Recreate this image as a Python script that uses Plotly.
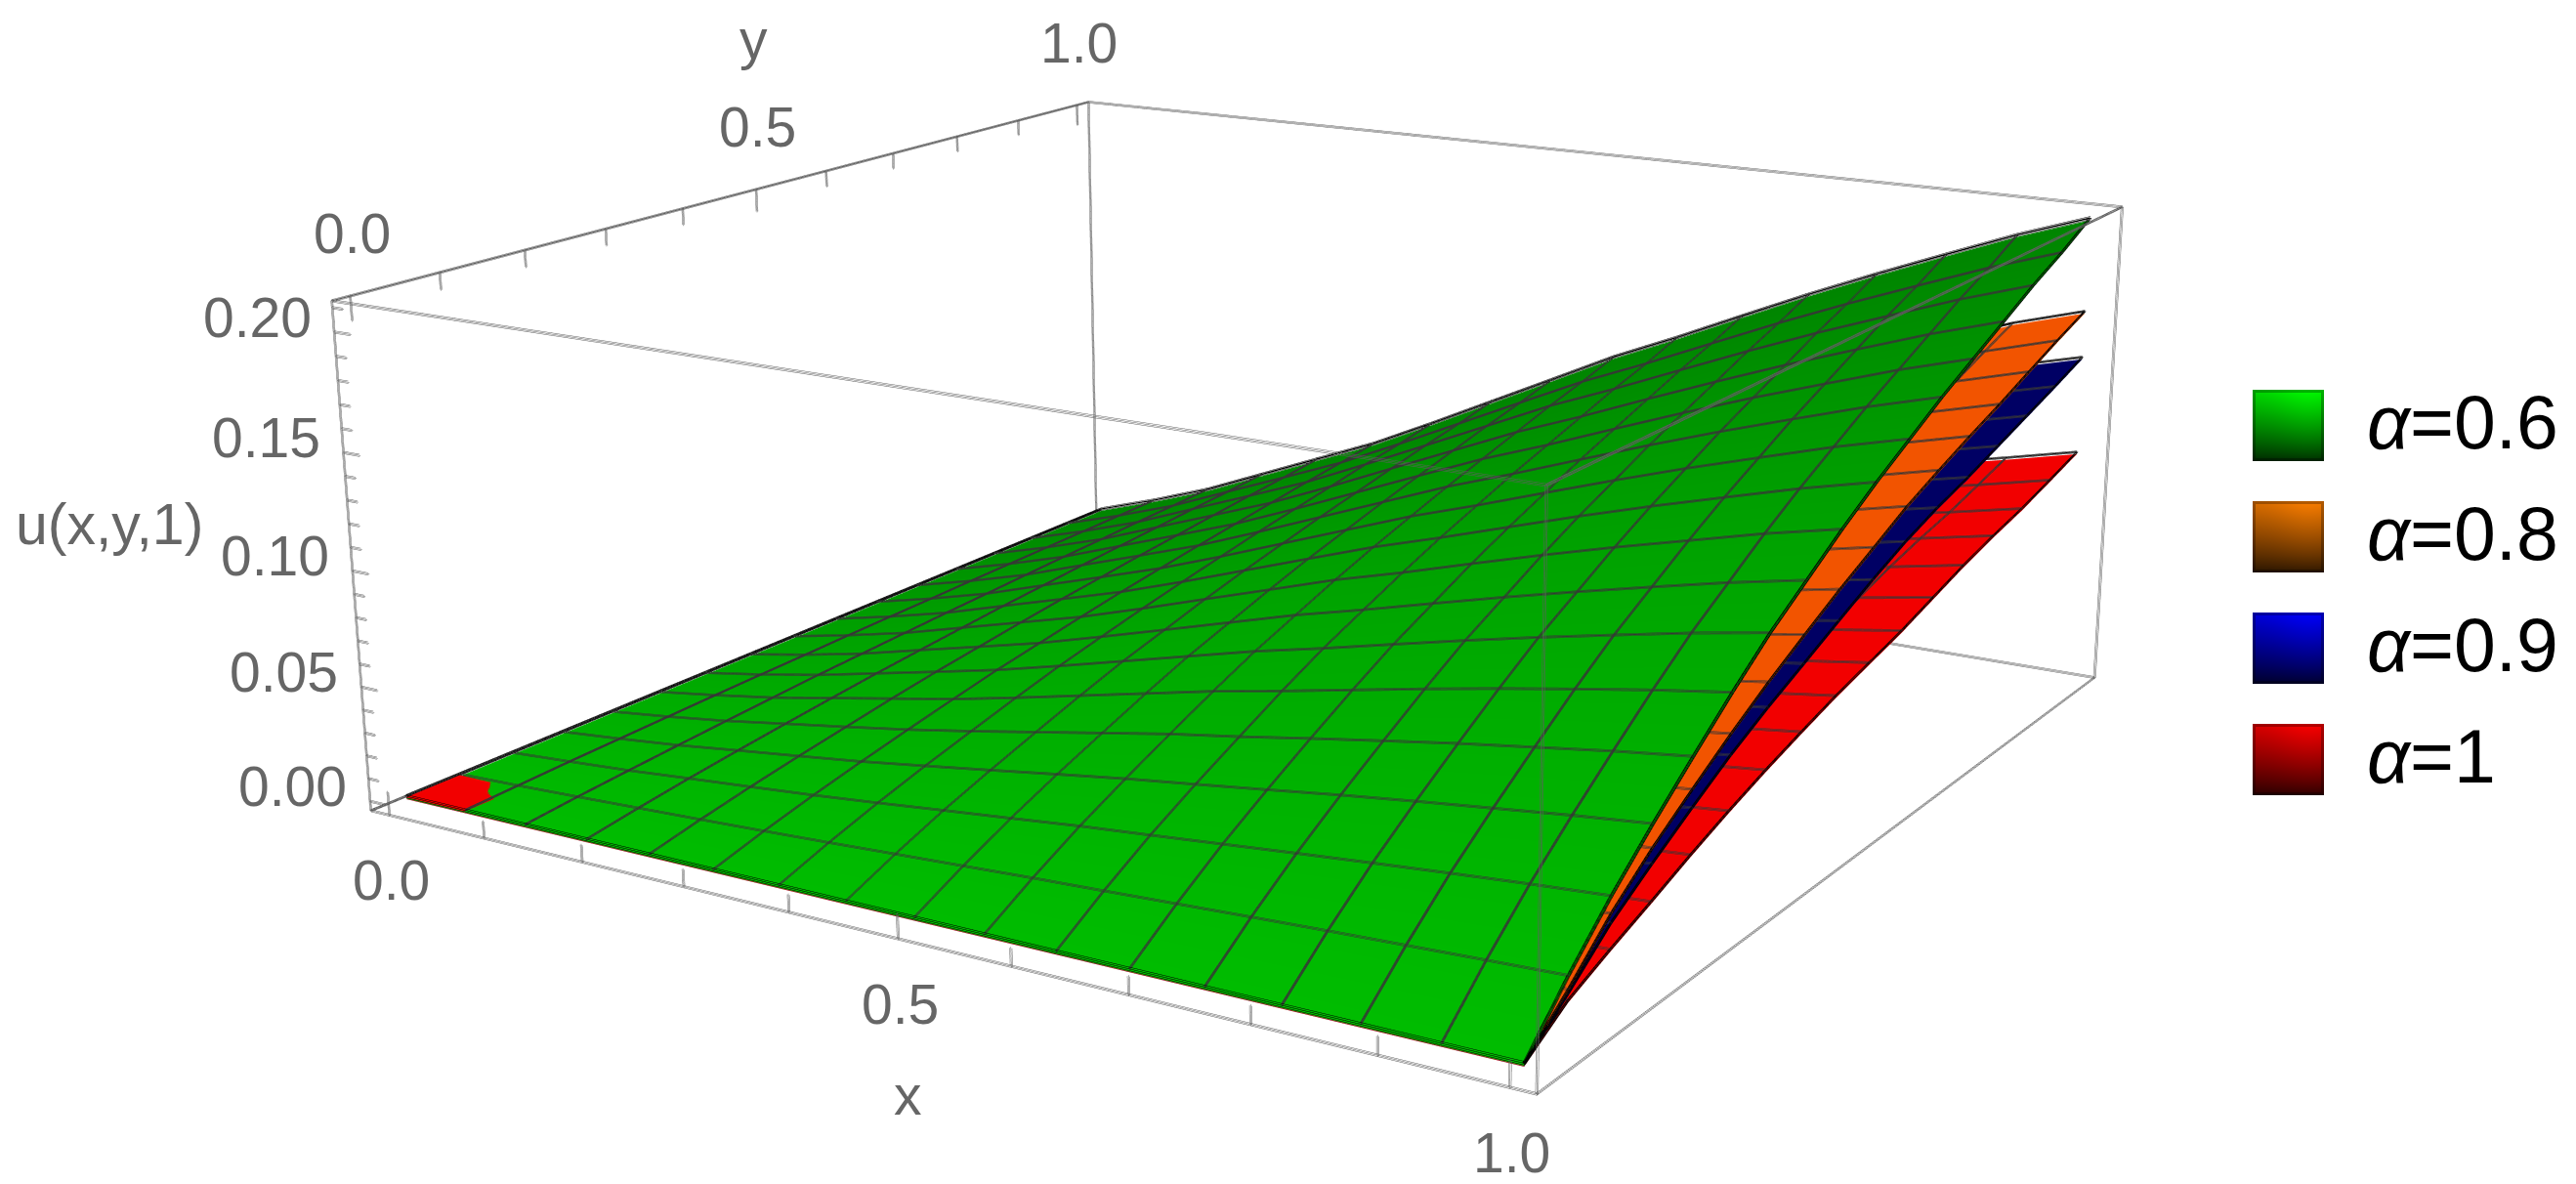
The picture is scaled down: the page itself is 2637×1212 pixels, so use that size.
import numpy as np
import plotly.graph_objects as go
from plotly.subplots import make_subplots

# ---------- data ----------
nodes = [0, .0625, .125, .1875, .25, .3125, .375, .4375, .5, .5625, .625, .6875, .75, .8125, .875, .9375, 1]
nodes_low = [0, .25, .5, .75, .875, .9375, 1]
# rows follow y (nodes), columns follow x
green = [
[0]*17,
[0,.0009,.0020,.0032,.0044,.0057,.0071,.0086,.0101,.0116,.0129,.0143,.0157,.0170,.0182,.0194,.0205],
[0,.0018,.0037,.0061,.0084,.0108,.0135,.0164,.0192,.0221,.0246,.0272,.0298,.0323,.0347,.0370,.0390],
[0,.0025,.0053,.0087,.0120,.0154,.0193,.0233,.0274,.0314,.0350,.0387,.0425,.0460,.0493,.0526,.0555],
[0,.0032,.0068,.0111,.0153,.0197,.0246,.0298,.0350,.0402,.0447,.0496,.0543,.0589,.0631,.0673,.0710],
[0,.0039,.0082,.0134,.0186,.0238,.0298,.0361,.0424,.0487,.0542,.0600,.0658,.0713,.0765,.0815,.0860],
[0,.0045,.0096,.0156,.0216,.0277,.0347,.0420,.0493,.0566,.0630,.0698,.0765,.0829,.0889,.0948,.1000],
[0,.0050,.0107,.0175,.0242,.0310,.0389,.0470,.0552,.0634,.0706,.0782,.0857,.0928,.0996,.1062,.1120],
[0,.0056,.0118,.0193,.0268,.0343,.0430,.0521,.0611,.0702,.0781,.0866,.0949,.1028,.1102,.1176,.1240],
[0,.0061,.0129,.0211,.0292,.0374,.0468,.0567,.0666,.0764,.0851,.0942,.1033,.1119,.1200,.1280,.1350],
[0,.0065,.0138,.0226,.0313,.0402,.0503,.0609,.0715,.0821,.0914,.1012,.1109,.1202,.1289,.1375,.1450],
[0,.0070,.0148,.0242,.0335,.0429,.0538,.0651,.0764,.0877,.0977,.1082,.1186,.1285,.1378,.1469,.1550],
[0,.0074,.0157,.0256,.0354,.0454,.0569,.0689,.0809,.0928,.1033,.1145,.1255,.1360,.1458,.1555,.1640],
[0,.0078,.0165,.0270,.0374,.0479,.0600,.0727,.0853,.0979,.1090,.1208,.1323,.1434,.1538,.1640,.1730],
[0,.0082,.0174,.0284,.0393,.0504,.0632,.0764,.0897,.1030,.1147,.1270,.1392,.1509,.1618,.1725,.1820],
[0,.0086,.0181,.0296,.0410,.0526,.0659,.0798,.0937,.1075,.1197,.1326,.1454,.1575,.1689,.1801,.1900],
[0,.0090,.0190,.0310,.0430,.0550,.0690,.0835,.0980,.1126,.1254,.1389,.1522,.1648,.1768,.1886,.1990],
]
orange = [
[-.0001]*7,
[-.0001,.0029,.0073,.0116,.0136,.0146,.0155],
[-.0001,.0062,.0153,.0244,.0284,.0307,.0325],
[-.0001,.0088,.0219,.0349,.0407,.0439,.0465],
[-.0001,.0112,.0276,.0440,.0514,.0555,.0587],
[-.0001,.0134,.0331,.0528,.0616,.0665,.0704],
[-.0001,.0154,.0382,.0609,.0711,.0767,.0812],
[-.0001,.0173,.0428,.0683,.0796,.0860,.0910],
[-.0001,.0191,.0472,.0754,.0879,.0950,.1005],
[-.0001,.0207,.0513,.0819,.0956,.1032,.1092],
[-.0001,.0224,.0555,.0885,.1033,.1115,.1180],
[-.0001,.0238,.0589,.0940,.1096,.1184,.1253],
[-.0001,.0251,.0621,.0992,.1157,.1249,.1322],
[-.0001,.0264,.0652,.1040,.1214,.1311,.1387],
[-.0001,.0277,.0685,.1093,.1275,.1377,.1457],
[-.0001,.0290,.0717,.1145,.1335,.1442,.1526],
[-.0001,.0302,.0747,.1193,.1391,.1503,.1590],
]
blue = [
[-.0002]*7,
[-.0002,.0027,.0066,.0105,.0123,.0132,.0140],
[-.0002,.0055,.0136,.0218,.0254,.0274,.0290],
[-.0002,.0077,.0191,.0305,.0356,.0385,.0407],
[-.0002,.0098,.0243,.0388,.0452,.0489,.0517],
[-.0002,.0118,.0292,.0467,.0544,.0588,.0622],
[-.0002,.0136,.0336,.0536,.0625,.0675,.0714],
[-.0002,.0151,.0375,.0598,.0697,.0753,.0797],
[-.0002,.0167,.0414,.0661,.0771,.0833,.0881],
[-.0002,.0183,.0453,.0722,.0843,.0910,.0963],
[-.0002,.0197,.0488,.0779,.0908,.0981,.1038],
[-.0002,.0209,.0517,.0825,.0963,.1040,.1100],
[-.0002,.0219,.0541,.0864,.1008,.1089,.1152],
[-.0002,.0230,.0569,.0908,.1060,.1144,.1211],
[-.0002,.0241,.0597,.0953,.1111,.1200,.1270],
[-.0002,.0253,.0625,.0997,.1163,.1256,.1329],
[-.0002,.0264,.0654,.1043,.1217,.1315,.1391],
]
red = [
[-.0003]*7,
[-.0003,.0023,.0054,.0085,.0099,.0107,.0115],
[-.0003,.0039,.0091,.0143,.0167,.0179,.0193],
[-.0003,.0053,.0125,.0196,.0229,.0246,.0265],
[-.0003,.0068,.0160,.0252,.0294,.0316,.0340],
[-.0003,.0082,.0192,.0303,.0354,.0380,.0409],
[-.0003,.0094,.0222,.0349,.0408,.0439,.0472],
[-.0003,.0106,.0249,.0391,.0458,.0492,.0529],
[-.0003,.0117,.0274,.0431,.0504,.0542,.0583],
[-.0003,.0126,.0296,.0465,.0544,.0585,.0629],
[-.0003,.0135,.0317,.0500,.0584,.0628,.0675],
[-.0003,.0146,.0343,.0540,.0631,.0679,.0730],
[-.0003,.0157,.0369,.0581,.0679,.0730,.0785],
[-.0003,.0166,.0391,.0616,.0720,.0774,.0832],
[-.0003,.0175,.0410,.0646,.0755,.0812,.0873],
[-.0003,.0185,.0434,.0683,.0798,.0858,.0923],
[-.0003,.0195,.0458,.0722,.0843,.0907,.0975],
]
patch_nodes = [0, .0625]
red_patch = [[.0005, .0005], [.0005, .0005]]
z_unit = 1.0433   # the tables were read with the box top taken at 0.204; box top is 0.2128
legend_labels = ["<i>α</i>=0.6", "<i>α</i>=0.8", "<i>α</i>=0.9", "<i>α</i>=1"]
legend_colors = [(0,255,0), (255,128,0), (0,0,255), (255,0,0)]
x_ticks = [0, .1, .2, .3, .4, .5, .6, .7, .8, .9, 1]
z_ticks = [0, .01, .02, .03, .04, .05, .06, .07, .08, .09, .10, .11, .12, .13, .14, .15, .16, .17, .18, .19, .20, .21]
x_labels = {0: "0.0", .5: "0.5", 1: "1.0"}
z_labels = {0: "0.00", .05: "0.05", .10: "0.10", .15: "0.15", .20: "0.20"}

# ---------- page geometry ----------
PAGE_W, PAGE_H = 2637, 1212
FIG_H = 3314          # a tall scene gives the long focal length of the reference
TOP = 1051            # pixels of the figure above the window
SCENE_W = 2492
XR = (-.02, 1.02); YR = (-.02, 1.02); ZR = (-.00417, .2128)
ROOM = 1.03           # scene range is a little wider than the box so its edges are not clipped
GRAY = "#5f5f5f"; MESH = "#363636"; FONT = "Liberation Sans"
def px(x): return x / PAGE_W
def py(y): return 1 - (y + TOP) / FIG_H
def wide(r):
    m = (r[0] + r[1]) / 2; h = (r[1] - r[0]) / 2 * ROOM
    return [m - h, m + h]

fig = make_subplots(rows=1, cols=1, specs=[[{"type": "scene"}]])
flat = dict(ambient=1, diffuse=0, specular=0, roughness=1, fresnel=0)

def add_lines(lines, color, dx, dz):
    # WebGL lines are one pixel wide here: thickness comes from slightly offset copies
    xs, ys, zs = [], [], []
    for ox, oz in [(0, 0), (0, dz), (0, -dz), (dx, 0), (-dx, 0)]:
        for l in lines:
            for p in l:
                xs.append(p[0] + ox); ys.append(p[1]); zs.append(p[2] + oz)
            xs.append(None); ys.append(None); zs.append(None)
    fig.add_trace(go.Scatter3d(x=xs, y=ys, z=zs, mode="lines", line=dict(color=color, width=1),
                               hoverinfo="skip", showlegend=False))

G = np.array(green) * z_unit
fig.add_trace(go.Surface(x=nodes, y=nodes, z=G, surfacecolor=[[v]*17 for v in nodes], cmin=0, cmax=1,
                         colorscale=[[0, "#00bc00"], [.5, "#00a200"], [1, "#008500"]], showscale=False,
                         lighting=flat, hoverinfo="skip"))
LIFT = .001
for tab, col in [(orange, "#f25400"), (blue, "#000064"), (red, "#f20000")]:
    Z = np.array(tab) * z_unit
    fig.add_trace(go.Surface(x=nodes_low, y=nodes, z=Z, colorscale=[[0, col], [1, col]], showscale=False,
                             lighting=flat, hoverinfo="skip"))
    add_lines([[(nodes_low[i], nodes[j], Z[j][i] + LIFT) for i in range(3, 7)] for j in range(1, 16)]
              + [[(nodes_low[i], nodes[j], Z[j][i] + LIFT) for j in range(9, 17)] for i in (4, 5)], MESH, .0009, .00045)
    add_lines([[(1, nodes[j], Z[j][6] + LIFT) for j in range(17)],
               [(nodes_low[i], 1, Z[16][i] + LIFT) for i in range(3, 7)]], "#000000", .0009, .00045)
fig.add_trace(go.Surface(x=patch_nodes, y=patch_nodes, z=red_patch, colorscale=[[0, "#f20000"], [1, "#f20000"]],
                         showscale=False, lighting=flat, hoverinfo="skip"))
add_lines([[(nodes[i], nodes[j], G[j][i] + LIFT) for i in range(17)] for j in range(1, 16)]
          + [[(nodes[i], nodes[j], G[j][i] + LIFT) for j in range(17)] for i in range(1, 16)], MESH, .0009, .00045)
add_lines([[(nodes[i], 0, LIFT) for i in range(17)], [(nodes[i], 1, G[16][i] + LIFT) for i in range(17)],
           [(0, nodes[j], LIFT) for j in range(17)], [(1, nodes[j], G[j][16] + LIFT) for j in range(17)]],
          "#000000", .0012, .0007)

# box
x0, x1 = XR; y0, y1 = YR; z0, z1 = ZR
edges = [[(x0,y0,z0),(x1,y0,z0),(x1,y1,z0),(x0,y1,z0),(x0,y0,z0)],
         [(x0,y0,z1),(x1,y0,z1),(x1,y1,z1),(x0,y1,z1),(x0,y0,z1)],
         [(x0,y0,z0),(x0,y0,z1)], [(x1,y0,z0),(x1,y0,z1)], [(x1,y1,z0),(x1,y1,z1)], [(x0,y1,z0),(x0,y1,z1)]]
ticks = []
for t in x_ticks:
    major = t in x_labels
    ticks.append([(t, y0, z0), (t, y0, z0 + (.0102 if major else .0073))])
    ticks.append([(x0, t, z1), (x0, t, z1 - (.0102 if major else .0073))])
for t in z_ticks:
    ticks.append([(x0, y0, t), (x0 + (.017 if t in z_labels else .011), y0, t)])
add_lines(edges + ticks, GRAY, .001, .0005)

# labels
tick_font = dict(family=FONT, size=57, color="#666666")
ann = []
def label(x, y, z, text, xs, ys, font=tick_font):
    ann.append(dict(x=x, y=y, z=z, text=text, showarrow=False, xanchor="center", yanchor="middle",
                    xshift=xs, yshift=ys, font=font))
for t, s in x_labels.items():
    label(t, y0, z0, s, 2, -67)
    label(x0, t, z1, s, 2, 64)
for t, s in z_labels.items():
    label(x0, y0, t, s, -79, 15)
label(.5, y0, z0, "x", 10, -160)
label(x0, .5, z1, "y", -2, 154)
label(x0, y0, .10, "u(x,y,1)", -249, 47, dict(family=FONT, size=59, color="#666666"))

fig.update_layout(
    width=PAGE_W, height=FIG_H, autosize=False, margin=dict(l=0, r=0, t=0, b=0, pad=0),
    paper_bgcolor="white", plot_bgcolor="white", showlegend=False,
    scene=dict(
        dragmode="orbit",
        domain=dict(x=[0, SCENE_W / PAGE_W], y=[0, 1]),
        aspectmode="manual", aspectratio=dict(x=1 * ROOM, y=.9781 * ROOM, z=.3955 * ROOM),
        camera=dict(eye=dict(x=1.5512, y=-2.4906, z=.8156), center=dict(x=-.0063, y=-.066, z=-.0578),
                    up=dict(x=.0059, y=.0079, z=1), projection=dict(type="perspective")),
        xaxis=dict(visible=False, range=wide(XR), autorange=False),
        yaxis=dict(visible=False, range=wide(YR), autorange=False),
        zaxis=dict(visible=False, range=wide(ZR), autorange=False),
        bgcolor="rgba(0,0,0,0)", annotations=ann),
)

# legend: gradient swatches and labels
SW = 73
tops = [399, 513, 627, 741]
u, v = np.meshgrid(np.linspace(0, 1, SW), np.linspace(0, 1, SW))
shade = (1 - v) ** .85 * .8 + .18
shade = shade * (.86 + .14 * np.exp(-((u - .8) ** 2) * 4))
edge = np.minimum.reduce([u, 1 - u, v, 1 - v]) < 3 / SW
shade = np.where(edge, shade * .72, shade)
for n, (c, top, text) in enumerate(zip(legend_colors, tops, legend_labels), start=1):
    img = np.clip(np.stack([np.array(c[k]) * shade for k in range(3)], axis=2), 0, 255).astype(int).tolist()
    fig.add_trace(go.Image(z=img, xaxis=f"x{n}", yaxis=f"y{n}", hoverinfo="skip"))
    fig.update_layout({
        f"xaxis{n}": dict(domain=[px(2306), px(2379)], visible=False, anchor=f"y{n}", range=[-.5, SW - .5]),
        f"yaxis{n}": dict(domain=[py(top + 73), py(top)], visible=False, anchor=f"x{n}", range=[SW - .5, -.5]),
    })
    fig.add_annotation(xref="paper", yref="paper", x=px(2421), y=py(top + 33), text=text, showarrow=False,
                       xanchor="left", yanchor="middle", font=dict(family=FONT, size=77, color="#000000"))

post = ("document.documentElement.style.overflow='hidden';document.body.style.overflow='hidden';"
        "document.body.style.margin='0';var g=document.querySelector('.plotly-graph-div');"
        f"g.style.position='absolute';g.style.left='0px';g.style.top='-{TOP}px';")
fig.write_html("out.html", post_script=post, config=dict(displayModeBar=False))
